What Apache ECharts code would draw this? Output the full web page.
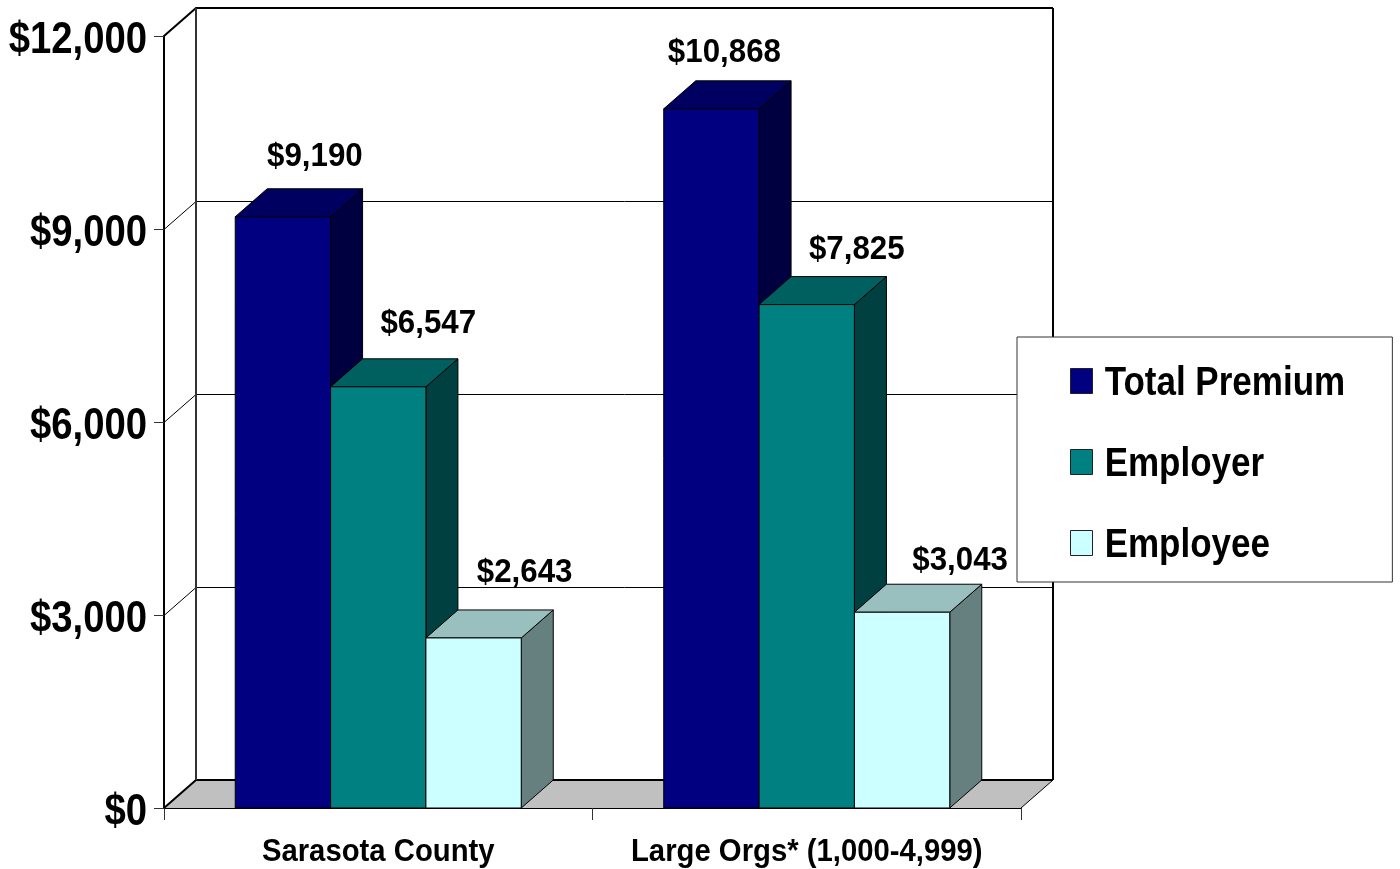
<!DOCTYPE html>
<html>
<head>
<meta charset="utf-8">
<style>html,body{margin:0;padding:0;background:#fff}#c{width:1400px;height:869px}</style>
<script src="https://cdn.jsdelivr.net/npm/echarts@6/dist/echarts.min.js"></script>
</head>
<body>
<div id="c"></div>
<script>
var categories = ['Sarasota County', 'Large Orgs* (1,000-4,999)'];
var totalPremium = [9190, 10868];
var employer = [6547, 7825];
var employee = [2643, 3043];
var yTicks = [0, 3000, 6000, 9000, 12000];

var DX = 32, DY = -28;
var FONT = '"Liberation Sans", Arial, sans-serif';
var money = function (v) { return '$' + v.toLocaleString('en-US'); };

function wallItem(params, api) {
  var cs = params.coordSys, L = cs.x, R = cs.x + cs.width;
  var y0 = api.coord([0, 0])[1], yT = api.coord([0, 12000])[1];
  var kids = [];
  kids.push({ type: 'polygon', shape: { points: [[L, y0], [L + DX, y0 + DY], [R + DX, y0 + DY], [R, y0]] },
    style: { fill: '#C0C0C0', stroke: null } });
  yTicks.forEach(function (t) {
    var y = api.coord([0, t])[1];
    var heavy = t === 12000 || t === 0;
    var lw = heavy ? 2 : 1, s = heavy ? 0 : 0.5;
    kids.push({ type: 'polyline', shape: { points: [[L, y + s], [L + DX, y + DY + s], [R + DX, y + DY + s]] },
      style: { fill: null, stroke: '#000', lineWidth: lw } });
  });
  kids.push({ type: 'line', shape: { x1: L + DX, y1: yT + DY, x2: L + DX, y2: y0 + DY }, style: { stroke: '#333', lineWidth: 2 } });
  kids.push({ type: 'line', shape: { x1: R + DX, y1: yT + DY, x2: R + DX, y2: y0 + DY }, style: { stroke: '#000', lineWidth: 2 } });
  kids.push({ type: 'line', shape: { x1: R, y1: y0, x2: R + DX, y2: y0 + DY }, style: { stroke: '#000', lineWidth: 1 } });
  return { type: 'group', children: kids };
}

function bar3d(slot, front, top, side, nudges) {
  return function (params, api) {
    var cat = api.value(0), v = api.value(1);
    var band = api.size([1, 0])[0];
    var w = band * 0.2225;
    var c = api.coord([cat, 0])[0];
    var x0 = c + (slot - 1.5) * w, x1 = x0 + w;
    var yB = api.coord([cat, 0])[1], yV = api.coord([cat, v])[1];
    var line = { stroke: '#000', lineWidth: 1, lineJoin: 'round' };
    var n = nudges[cat];
    return { type: 'group', children: [
      { type: 'polygon', shape: { points: [[x1, yB], [x1 + DX, yB + DY], [x1 + DX, yV + DY], [x1, yV]] },
        style: Object.assign({ fill: side }, line) },
      { type: 'polygon', shape: { points: [[x0, yV], [x0 + DX, yV + DY], [x1 + DX, yV + DY], [x1, yV]] },
        style: Object.assign({ fill: top }, line) },
      { type: 'rect', shape: { x: x0, y: yV, width: w, height: yB - yV },
        style: Object.assign({ fill: front }, line) },
      { type: 'text', x: (x0 + x1) / 2 + n[0], y: yV + DY + n[1], scaleX: 0.92, z2: 50,
        style: { text: money(v), fill: '#000', font: 'bold 34px ' + FONT, textAlign: 'center', textVerticalAlign: 'middle' } }
    ] };
  };
}

function seriesData(vals) { return vals.map(function (v, i) { return [i, v]; }); }

var chart = echarts.init(document.getElementById('c'), null, { renderer: 'canvas' });
chart.setOption({
  animation: false,
  backgroundColor: '#fff',
  grid: { left: 164, top: 36, width: 857, height: 772, outerBoundsMode: 'none' },
  xAxis: {
    type: 'category', data: categories,
    axisLine: { lineStyle: { color: '#000', width: 2 } },
    axisTick: { show: true, length: 12, lineStyle: { color: '#333', width: 1 } },
    axisLabel: { color: '#000', fontFamily: FONT, fontWeight: 'bold', fontSize: 32, margin: 28, interval: 0, hideOverlap: false }
  },
  yAxis: {
    type: 'value', min: 0, max: 12000, interval: 3000,
    axisLine: { show: true, lineStyle: { color: '#000', width: 2 } },
    axisTick: { show: true, length: 10, lineStyle: { color: '#333', width: 1 } },
    splitLine: { show: false },
    axisLabel: { color: '#000', fontFamily: FONT, fontWeight: 'bold', fontSize: 44, margin: 17,
      formatter: money }
  },
  legend: {
    left: 1017, top: 337, orient: 'vertical', align: 'left',
    backgroundColor: '#fff', borderColor: '#333', borderWidth: 1,
    padding: [24, 8, 19, 53], itemGap: 41, itemWidth: 22, itemHeight: 25,
    icon: 'rect', selectedMode: false,
    textStyle: { color: '#000', fontFamily: FONT, fontWeight: 'bold', fontSize: 40, padding: [0, 0, 0, 12] },
    data: ['Total Premium', 'Employer', 'Employee'],
    itemStyle: { borderColor: '#222', borderWidth: 1 }
  },
  series: [
    { type: 'custom', name: 'walls', renderItem: wallItem, data: [[0, 0]], silent: true, z: 1 },
    { type: 'custom', name: 'Total Premium', renderItem: bar3d(0, '#000080', '#000060', '#000040', [[32, -32], [13, -28]]),
      data: seriesData(totalPremium), itemStyle: { color: '#000080' }, encode: { x: 0, y: 1 }, z: 2 },
    { type: 'custom', name: 'Employer', renderItem: bar3d(1, '#008080', '#006060', '#004040', [[50, -35], [50, -27]]),
      data: seriesData(employer), itemStyle: { color: '#008080' }, encode: { x: 0, y: 1 }, z: 3 },
    { type: 'custom', name: 'Employee', renderItem: bar3d(2, '#CCFFFF', '#99BFBF', '#668080', [[51, -37], [58, -24]]),
      data: seriesData(employee), itemStyle: { color: '#CCFFFF' }, encode: { x: 0, y: 1 }, z: 4 }
  ]
});

// The reference's type is slightly condensed: squeeze axis and legend text horizontally.
var squeeze = { '44px': { sx: 0.87, dy: 5 }, '32px': { sx: 0.915, dy: 0 }, '40px': { sx: 0.875, dy: 3 } };
var zr = chart.getZr();
zr.storage.getDisplayList(true).forEach(function (el) {
  var font = el.style && el.style.font;
  var text = el.style && el.style.text;
  if (!font || text == null || !el.parent) return;
  Object.keys(squeeze).forEach(function (k) {
    if (font.indexOf(k) >= 0) {
      el.parent.scaleX = squeeze[k].sx;
      el.parent.y += squeeze[k].dy;
      el.parent.markRedraw();
    }
  });
});
zr.refreshImmediately();
</script>
</body>
</html>
